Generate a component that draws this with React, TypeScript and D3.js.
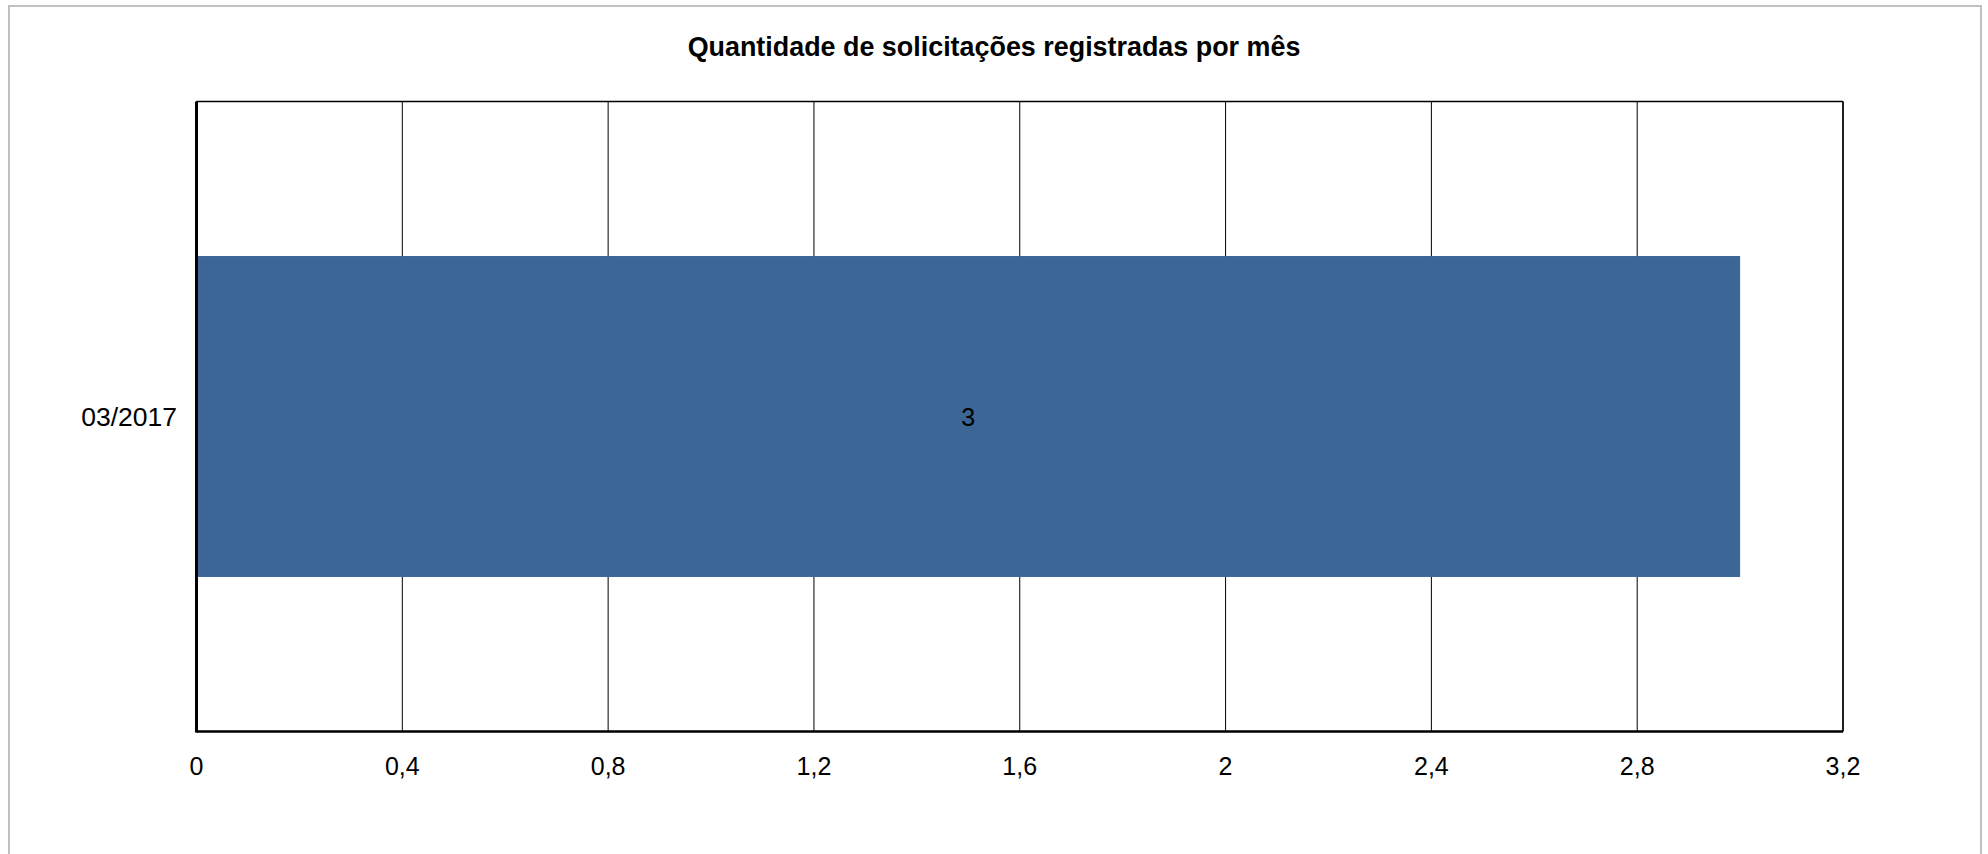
import React from 'react';
import * as d3 from 'd3';

// chart data
const categories = ['03/2017'];
const values = [3];
const xTicks = [0, 0.4, 0.8, 1.2, 1.6, 2, 2.4, 2.8, 3.2];
const title = 'Quantidade de solicitações registradas por mês';

const W = 1988;
const H = 854;
const marginLeft = 196.5;
const marginRight = W - 1843;
const marginTop = 101.5;
const marginBottom = H - 731.5;

const fmt = (d: number) => String(d).replace('.', ',');

const App = () => {
  const x = d3.scaleLinear().domain([0, 3.2]).range([marginLeft, W - marginRight]);
  const y = d3.scaleBand<string>()
    .domain(categories)
    .range([marginTop, H - marginBottom])
    .padding(0.325);

  const font = 'Liberation Sans, Arial, sans-serif';

  return (
    <svg width={W} height={H} style={{ position: 'absolute', left: 0, top: 0 }}>
      <rect x={0} y={0} width={W} height={H} fill="#fff" />
      {/* outer frame */}
      <rect x={9} y={6} width={1972} height={900} fill="none" stroke="#c0c0c0" strokeWidth={2} />

      <text x={994} y={56} textAnchor="middle" fontFamily={font} fontWeight="bold" fontSize={26.9}>
        {title}
      </text>

      {/* grid */}
      {xTicks.map(t => (
        <line key={t} x1={x(t)} x2={x(t)} y1={marginTop} y2={H - marginBottom} stroke="#000" strokeWidth={1} />
      ))}
      <line x1={marginLeft} x2={W - marginRight} y1={marginTop} y2={marginTop} stroke="#000" strokeWidth={1.5} />
      <line x1={W - marginRight} x2={W - marginRight} y1={marginTop} y2={H - marginBottom} stroke="#000" strokeWidth={1.5} />

      {/* bars */}
      {categories.map((c, i) => (
        <g key={c}>
          <rect x={x(0)} y={y(c)} width={x(values[i]) - x(0)} height={y.bandwidth()} fill="#3b6696" />
          <text x={(x(0) + x(values[i])) / 2} y={y(c)! + y.bandwidth() / 2} dy="0.36em" textAnchor="middle"
            fontFamily={font} fontSize={25}>{values[i]}</text>
          <text x={177} y={y(c)! + y.bandwidth() / 2} dy="0.36em" textAnchor="end"
            fontFamily={font} fontSize={26.5}>{c}</text>
        </g>
      ))}

      {/* axes */}
      <line x1={marginLeft} x2={marginLeft} y1={marginTop} y2={H - marginBottom + 1} stroke="#000" strokeWidth={3} />
      <line x1={marginLeft} x2={W - marginRight} y1={H - marginBottom} y2={H - marginBottom} stroke="#000" strokeWidth={2.5} />

      {xTicks.map(t => (
        <text key={t} x={x(t)} y={775} textAnchor="middle" fontFamily={font} fontSize={25}>{fmt(t)}</text>
      ))}
    </svg>
  );
};

export default App;
